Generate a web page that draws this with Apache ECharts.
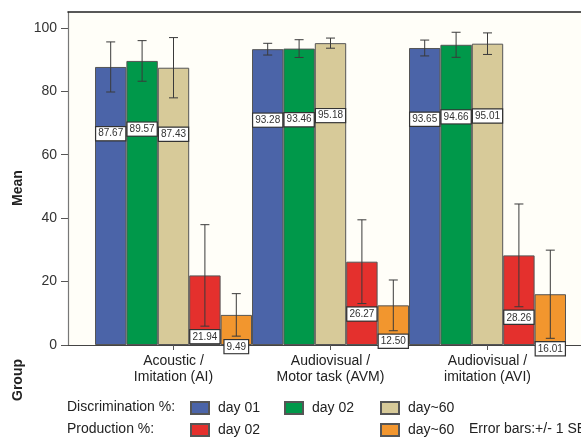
<!DOCTYPE html>
<html>
<head>
<meta charset="utf-8">
<script src="https://cdn.jsdelivr.net/npm/echarts@6/dist/echarts.min.js"></script>
<style>
  html, body { margin: 0; padding: 0; background: #fff; }
  #chart { width: 581px; height: 439px; }
</style>
</head>
<body>
<div id="chart"></div>
<script>
// Group means (%) and standard errors per condition
const categories = ['Acoustic /\nImitation (AI)', 'Audiovisual /\nMotor task (AVM)', 'Audiovisual /\nimitation (AVI)'];
const discDay01 = [87.67, 93.28, 93.65];
const discDay02 = [89.57, 93.46, 94.66];
const discDay60 = [87.43, 95.18, 95.01];
const prodDay02 = [21.94, 26.27, 28.26];
const prodDay60 = [9.49, 12.50, 16.01];

const seDiscDay01 = [7.9, 1.85, 2.5];
const seDiscDay02 = [6.4, 2.8, 3.95];
const seDiscDay60 = [9.5, 1.6, 3.4];
const seProdDay02 = [16.0, 13.2, 16.2];
const seProdDay60 = [6.7, 8.0, 13.9];

const yTicks = [0, 20, 40, 60, 80, 100];

const FONT = "'Liberation Sans', Arial, Helvetica, sans-serif";
const Y_MAX = 105;

const seriesDefs = [
  { name: 'Discrimination day 01', values: discDay01, se: seDiscDay01, color: '#4B64A8', production: false },
  { name: 'Discrimination day 02', values: discDay02, se: seDiscDay02, color: '#00984A', production: false },
  { name: 'Discrimination day~60', values: discDay60, se: seDiscDay60, color: '#D7CA99', production: false },
  { name: 'Production day 02', values: prodDay02, se: seProdDay02, color: '#E4302D', production: true },
  { name: 'Production day~60', values: prodDay60, se: seProdDay60, color: '#F2962E', production: true }
];

const labelBox = {
  fontSize: 10,
  fontFamily: FONT,
  color: '#333',
  backgroundColor: '#fff',
  borderColor: '#333',
  borderWidth: 1.2,
  padding: [2, 2, 1, 2]
};

const series = [];
seriesDefs.forEach(function (d, k) {
  series.push({
    type: 'bar',
    name: d.name,
    xAxisIndex: 2,
    yAxisIndex: 1,
    barGap: '0%',
    barCategoryGap: '0%',
    data: d.values,
    itemStyle: { color: d.color, borderColor: '#555', borderWidth: 1 },
    label: d.production ? { show: false } : Object.assign({
      show: true,
      position: ['50%', '24%'],
      align: 'center',
      verticalAlign: 'middle',
      formatter: function (p) { return p.value.toFixed(2); }
    }, labelBox),
    emphasis: { disabled: true },
    z: 2
  });
  // error bars (+/- 1 SE), plus the value box under the lower whisker for production bars
  series.push({
    type: 'custom',
    name: d.name + ' SE',
    xAxisIndex: 2,
    yAxisIndex: 1,
    data: d.values.map(function (v, i) { return [i, v, d.se[i]]; }),
    encode: { x: 0, y: 1 },
    z: 5,
    silent: true,
    renderItem: function (params, api) {
      const cat = api.value(0);
      const mean = api.value(1);
      const se = api.value(2);
      const band = api.size([1, 0])[0];
      const barW = band / seriesDefs.length;
      const cx = api.coord([cat, 0])[0] + (k - (seriesDefs.length - 1) / 2) * barW;
      const yHi = api.coord([cat, mean + se])[1];
      const yLo = api.coord([cat, mean - se])[1];
      const cap = 4.5;
      const ls = { stroke: '#3a3a3a', lineWidth: 1 };
      const children = [
        { type: 'line', shape: { x1: cx, y1: yHi, x2: cx, y2: yLo }, style: ls },
        { type: 'line', shape: { x1: cx - cap, y1: yHi, x2: cx + cap, y2: yHi }, style: ls },
        { type: 'line', shape: { x1: cx - cap, y1: yLo, x2: cx + cap, y2: yLo }, style: ls }
      ];
      if (d.production) {
        children.push({
          type: 'text',
          x: cx,
          y: yLo + 4,
          z2: 10,
          style: {
            text: mean.toFixed(2),
            fontSize: 10,
            fontFamily: FONT,
            fill: '#333',
            backgroundColor: '#fff',
            borderColor: '#333',
            borderWidth: 1.2,
            padding: [2, 2, 1, 2],
            align: 'center',
            verticalAlign: 'top'
          }
        });
      }
      return { type: 'group', children: children };
    }
  });
});

function legendFor(name, left, top) {
  return {
    data: [name],
    left: left,
    top: top,
    padding: 0,
    itemWidth: 18,
    itemHeight: 12,
    selectedMode: false,
    icon: 'rect',
    formatter: function (n) { return n.replace(/^(Discrimination|Production) /, ''); },
    textStyle: { fontSize: 14, fontFamily: FONT, color: '#222', padding: [0, 0, 0, 4] }
  };
}

const option = {
  animation: false,
  backgroundColor: '#fff',
  textStyle: { fontFamily: FONT },
  grid: [
    // frame: left axis, top rule and baseline
    { left: 68, top: 12, right: -20, bottom: 94, show: true, backgroundColor: '#FFFEF8', borderWidth: 0 },
    // bar area
    { left: 95, top: 12, width: 471, bottom: 94 }
  ],
  xAxis: [
    { type: 'value', gridIndex: 0, min: 0, max: 1, position: 'bottom',
      axisLine: { show: true, lineStyle: { color: '#444', width: 1.2 } },
      axisTick: { show: false }, axisLabel: { show: false }, splitLine: { show: false } },
    { type: 'value', gridIndex: 0, min: 0, max: 1, position: 'top',
      axisLine: { show: true, lineStyle: { color: '#222', width: 1.6 } },
      axisTick: { show: false }, axisLabel: { show: false }, splitLine: { show: false } },
    { type: 'category', gridIndex: 1, data: categories, position: 'bottom',
      axisLine: { show: false },
      axisTick: { show: true, alignWithLabel: true, length: 5, lineStyle: { color: '#555' } },
      axisLabel: { fontSize: 14, lineHeight: 16, color: '#222', margin: 8, fontFamily: FONT },
      splitLine: { show: false } }
  ],
  yAxis: [
    { type: 'value', gridIndex: 0, min: 0, max: Y_MAX, interval: 20,
      axisLine: { show: true, lineStyle: { color: '#777', width: 1.2 } },
      axisTick: { show: true, length: 7, customValues: yTicks, lineStyle: { color: '#555' } },
      axisLabel: { fontSize: 14, color: '#333', margin: 11, customValues: yTicks, fontFamily: FONT },
      splitLine: { show: false } },
    { type: 'value', gridIndex: 1, min: 0, max: Y_MAX, show: false, splitLine: { show: false } }
  ],
  legend: [
    legendFor('Discrimination day 01', 190, 401),
    legendFor('Discrimination day 02', 284, 401),
    legendFor('Discrimination day~60', 380, 401),
    legendFor('Production day 02', 190, 423),
    legendFor('Production day~60', 380, 423)
  ],
  graphic: [
    { type: 'text', x: 18, y: 188, rotation: Math.PI / 2,
      style: { text: 'Mean', fontSize: 14, fontWeight: 'bold', fontFamily: FONT, fill: '#222', align: 'center', verticalAlign: 'middle' } },
    { type: 'text', x: 18, y: 380, rotation: Math.PI / 2,
      style: { text: 'Group', fontSize: 14, fontWeight: 'bold', fontFamily: FONT, fill: '#222', align: 'center', verticalAlign: 'middle' } },
    { type: 'text', x: 67, y: 407,
      style: { text: 'Discrimination %:', fontSize: 14, fontFamily: FONT, fill: '#222', verticalAlign: 'middle' } },
    { type: 'text', x: 67, y: 429,
      style: { text: 'Production %:', fontSize: 14, fontFamily: FONT, fill: '#222', verticalAlign: 'middle' } },
    { type: 'text', x: 469, y: 429,
      style: { text: 'Error bars:+/- 1 SE', fontSize: 14, fontFamily: FONT, fill: '#222', verticalAlign: 'middle' } }
  ],
  series: series
};

const chart = echarts.init(document.getElementById('chart'), null, { renderer: 'canvas' });
chart.setOption(option);
</script>
</body>
</html>
